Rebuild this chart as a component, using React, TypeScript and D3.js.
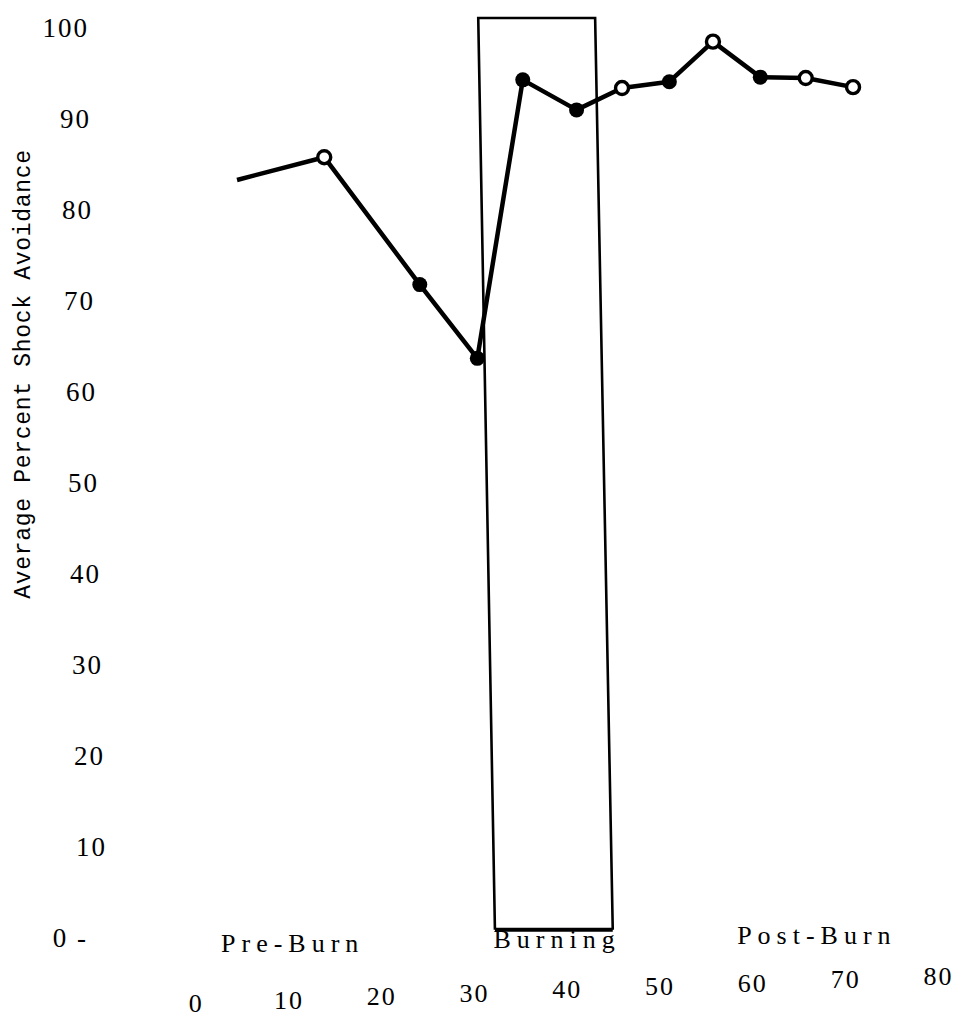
import React from "react";
import * as d3 from "d3";

// ---- data ----
const xTicks = [0, 10, 20, 30, 40, 50, 60, 70, 80];
const yTicks = [0, 10, 20, 30, 40, 50, 60, 70, 80, 90, 100];
const yTickLabels = ["0 -", "10", "20", "30", "40", "50", "60", "70", "80", "90", "100"];

const sessions = [4.4, 13.8, 24.1, 30.3, 35.2, 41.0, 45.9, 51.0, 55.7, 60.8, 65.7, 70.8];
const avoidance = [83.3, 85.8, 71.8, 63.7, 94.3, 91.0, 93.4, 94.1, 98.5, 94.6, 94.5, 93.5];
const markerKinds = ["none", "open", "filled", "filled", "filled", "filled", "open", "filled", "open", "filled", "open", "open"];

const phases = ["Pre-Burn", "Burning", "Post-Burn"];
const phaseCenters = [10.4, 38.9, 66.9];

// burning period box (data coords: top edge and bottom edge, scanned slightly skewed)
const burnTopX = [30.4, 43.0];
const burnBottomX = [32.2, 44.9];
const burnTopY = 101.1;
const burnBottomY = 0.9;

const yTitle = "Average Percent Shock Avoidance";

export default function App() {
  const W = 959;
  const H = 1028;
  const x = d3.scaleLinear().domain([0, 80]).range([196.2, 938.4]);
  const y = d3.scaleLinear().domain([0, 100]).range([938, 28]);

  const pts = sessions.map((s, i) => [x(s), y(avoidance[i])] as [number, number]);
  const line = d3.line<[number, number]>()(pts) || "";

  const box =
    d3.line<[number, number]>()([
      [x(burnBottomX[0]), y(burnBottomY)],
      [x(burnTopX[0]), y(burnTopY)],
      [x(burnTopX[1]), y(burnTopY)],
      [x(burnBottomX[1]), y(burnBottomY)],
    ]) || "";
  const boxBottom =
    d3.line<[number, number]>()([
      [x(burnBottomX[0]), y(burnBottomY)],
      [x(burnBottomX[1]), y(burnBottomY)],
    ]) || "";

  const serif = "'Liberation Serif', 'DejaVu Serif', serif";

  return (
    <svg
      width={W}
      height={H}
      style={{ position: "absolute", left: 0, top: 0, background: "#fff" }}
    >
      <rect x={0} y={0} width={W} height={H} fill="#fff" />

      {/* Y axis title */}
      <text
        transform={`translate(30, ${374}) rotate(-90)`}
        textAnchor="middle"
        fontFamily="'Liberation Mono', 'DejaVu Sans Mono', monospace"
        fontSize={23}
        letterSpacing={0.7}
        fill="#000"
      >
        {yTitle}
      </text>

      {/* Y tick labels */}
      {yTicks.map((t, i) => {
        const yy = y(t);
        const drift = (yy - y(100)) * 0.022;
        const lbl = yTickLabels[i];
        const shift = lbl.includes("-") ? -21 : 0;
        return (
          <text
            key={"y" + t}
            x={89 + drift + shift}
            y={yy}
            dy="0.35em"
            textAnchor="end"
            fontFamily={serif}
            fontSize={27}
            letterSpacing={2}
            fill="#000"
          >
            {lbl}
          </text>
        );
      })}

      {/* X tick labels */}
      {xTicks.map((t) => {
        const xx = x(t);
        const rise = (xx - x(0)) * 0.037;
        return (
          <text
            key={"x" + t}
            x={xx}
            y={1003 - rise}
            dy="0.35em"
            textAnchor="middle"
            fontFamily={serif}
            fontSize={26}
            letterSpacing={2}
            fill="#000"
          >
            {t}
          </text>
        );
      })}

      {/* Phase labels */}
      {phases.map((p, i) => {
        const xx = x(phaseCenters[i]);
        const rise = (xx - x(0)) * 0.015;
        return (
          <text
            key={p}
            x={xx}
            y={944 - rise}
            dy="0.35em"
            textAnchor="middle"
            fontFamily={serif}
            fontSize={26}
            letterSpacing={6}
            fill="#000"
          >
            {p}
          </text>
        );
      })}

      {/* Burning box */}
      <path d={box} fill="none" stroke="#000" strokeWidth={2.6} />
      <path d={boxBottom} fill="none" stroke="#000" strokeWidth={4} />

      {/* Data line */}
      <path d={line} fill="none" stroke="#000" strokeWidth={4.5} strokeLinejoin="round" />

      {/* Markers */}
      {pts.map((p, i) => {
        const k = markerKinds[i];
        if (k === "none") return null;
        return k === "filled" ? (
          <circle key={"m" + i} cx={p[0]} cy={p[1]} r={7.5} fill="#000" />
        ) : (
          <circle key={"m" + i} cx={p[0]} cy={p[1]} r={6.5} fill="#fff" stroke="#000" strokeWidth={3.4} />
        );
      })}
    </svg>
  );
}
